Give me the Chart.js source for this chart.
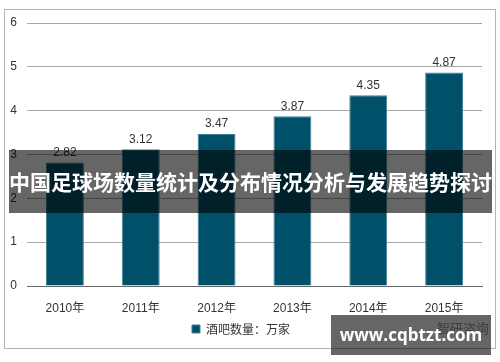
<!DOCTYPE html>
<html>
<head>
<meta charset="utf-8">
<script src="https://cdn.jsdelivr.net/npm/chart.js@4/dist/chart.umd.min.js"></script>
<style>
  html, body { margin: 0; padding: 0; background: #fff; }
  #wrap { position: relative; width: 500px; height: 362px; overflow: hidden; }
  #c { position: absolute; left: 0; top: 0; }
  #banner { position: absolute; left: 9px; top: 150px; width: 483px; height: 63px;
    background: rgba(0,0,0,0.6); color: #fff; font-family: "Noto Sans CJK SC", sans-serif;
    font-weight: bold; font-size: 21px; line-height: 63px; text-align: center; white-space: nowrap; letter-spacing: 0px; }
  #wm { position: absolute; left: 331px; top: 315px; width: 160px; height: 40px;
    background: rgba(0,0,0,0.6); color: #fff; font-family: "Open Sans", "Noto Sans", sans-serif;
    font-weight: bold; font-size: 17px; line-height: 40px; text-align: center; white-space: nowrap; }
</style>
</head>
<body>
<div id="wrap">
  <canvas id="c" width="500" height="362"></canvas>
  <div id="banner">中国足球场数量统计及分布情况分析与发展趋势探讨</div>
  <div id="wm">www.cqbtzt.com</div>
</div>
<script>
const categories = ["2010年", "2011年", "2012年", "2013年", "2014年", "2015年"];
const barValues = [2.82, 3.12, 3.47, 3.87, 4.35, 4.87];
const seriesName = "酒吧数量：万家";
const yTicks = [0, 1, 2, 3, 4, 5, 6];
const sourceText = "智研咨询";

const FONT = '"Liberation Sans", Arial, "Noto Sans CJK SC", sans-serif';

const framePlugin = {
  id: 'frame',
  beforeDraw(chart) {
    const ctx = chart.ctx;
    ctx.save();
    ctx.fillStyle = '#fff';
    ctx.fillRect(0, 0, chart.width, chart.height);
    ctx.strokeStyle = '#b4b4b4';
    ctx.lineWidth = 1;
    ctx.strokeRect(4.5, 9.5, 491, 339);
    ctx.restore();
  },
  afterDraw(chart) {
    const ctx = chart.ctx;
    ctx.save();
    ctx.fillStyle = '#9a9a9a';
    ctx.font = '13px "Noto Sans CJK SC", sans-serif';
    ctx.textAlign = 'left';
    ctx.textBaseline = 'middle';
    ctx.fillText(sourceText, 437, 328);
    ctx.restore();
  }
};

const labelPlugin = {
  id: 'vlabels',
  afterDatasetsDraw(chart) {
    const ctx = chart.ctx;
    const meta = chart.getDatasetMeta(0);
    ctx.save();
    ctx.fillStyle = '#333';
    ctx.font = '12px ' + FONT;
    ctx.textAlign = 'center';
    ctx.textBaseline = 'bottom';
    meta.data.forEach((bar, i) => {
      ctx.fillText(barValues[i].toFixed(2), bar.x, bar.y - 4);
    });
    ctx.restore();
  }
};

new Chart(document.getElementById('c'), {
  type: 'bar',
  data: {
    labels: categories,
    datasets: [{
      label: seriesName,
      data: barValues,
      backgroundColor: '#005069',
      borderColor: '#3f8396',
      borderWidth: 1,
      categoryPercentage: 1.0,
      barPercentage: 0.5
    }]
  },
  options: {
    responsive: false,
    animation: false,
    layout: { padding: { top: 23, right: 18, bottom: 17, left: 0 } },
    plugins: {
      legend: {
        position: 'bottom',
        labels: {
          boxWidth: 8, boxHeight: 8, padding: 10,
          color: '#333',
          font: { size: 12, family: '"Noto Sans CJK SC", sans-serif' }
        }
      },
      tooltip: { enabled: false }
    },
    scales: {
      x: {
        grid: { display: false },
        border: { display: true, color: '#666', width: 1 },
        ticks: { color: '#333', font: { size: 12, family: FONT }, padding: 7, maxRotation: 0 },
        afterFit(s) { s.height = 27; }
      },
      y: {
        min: 0, max: 6,
        afterBuildTicks(s) { s.ticks = yTicks.map(v => ({ value: v })); },
        grid: { color: '#a8a8a8', drawTicks: false, lineWidth: 1 },
        border: { display: false },
        ticks: { color: '#333', font: { size: 12, family: FONT }, padding: 10 },
        afterFit(s) { s.width = 27; }
      }
    }
  },
  plugins: [framePlugin, labelPlugin]
});
</script>
</body>
</html>
